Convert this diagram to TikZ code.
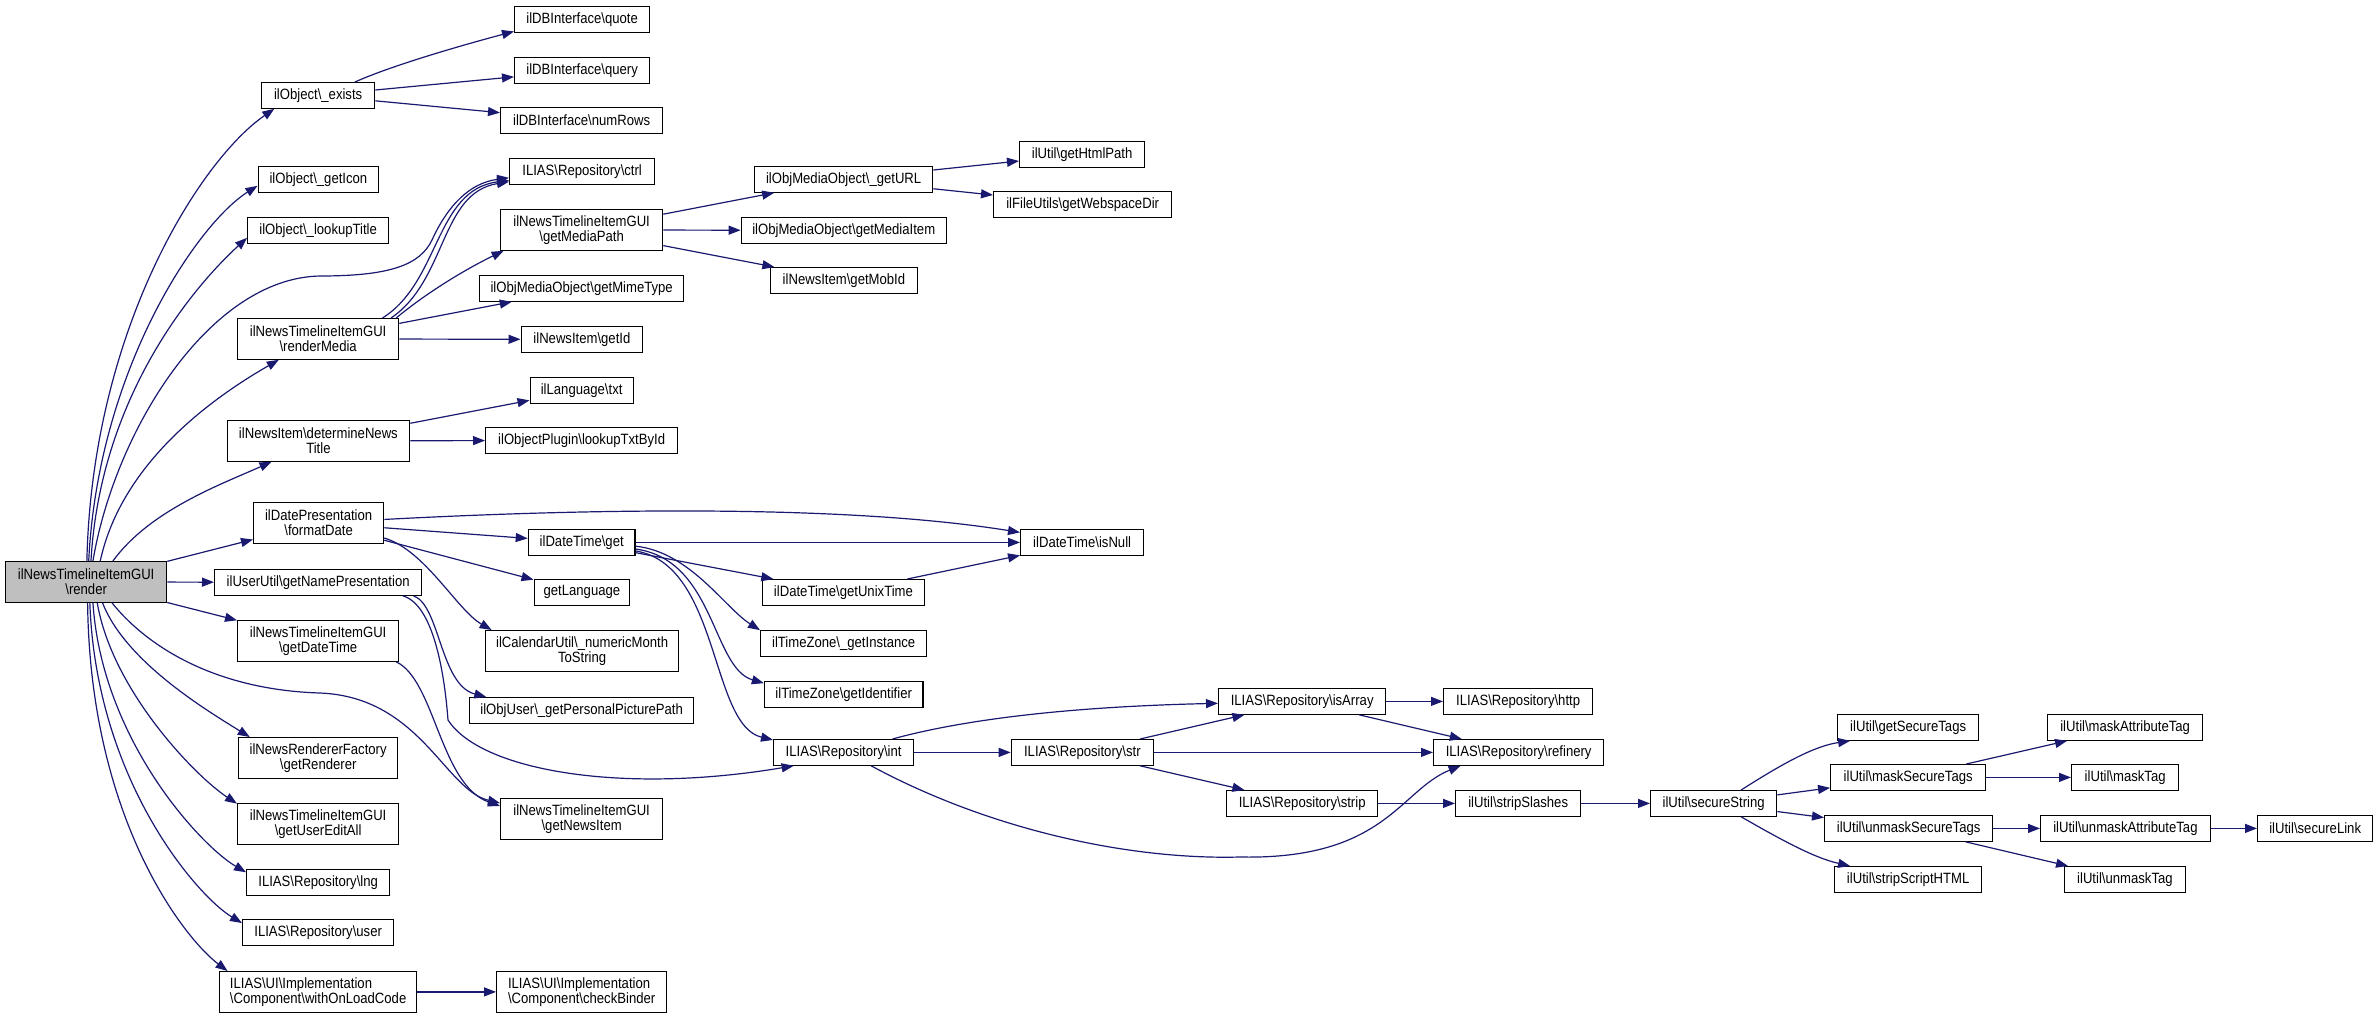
\documentclass[tikz,border=0pt]{standalone}
\usepackage{fontspec}
\setmainfont{Liberation Sans}[FakeStretch=0.88]
\usetikzlibrary{arrows.meta}
\definecolor{edgeblue}{HTML}{191970}
\definecolor{rootfill}{HTML}{BFBFBF}
\newcommand{\bksl}{\textbackslash}
\begin{document}
\begin{tikzpicture}[x=1pt,y=-1pt,
  box/.style={draw=black, line width=1.3pt, fill=white, inner sep=0pt, anchor=north west,
    font=\fontsize{14.9}{15.2}\selectfont, align=center, minimum height=25.5pt},
  dbl/.style={box, minimum height=40.5pt},
  root/.style={dbl, fill=rootfill},
  edge/.style={draw=edgeblue, line width=1.2pt, -{Triangle[length=12pt,width=9pt]}}
]
\useasboundingbox (0,0) rectangle (2377,1017);

% column 0
\node[root, minimum width=161pt] (render) at (5,561) {ilNewsTimelineItemGUI\\\bksl render};
% column 1
\node[box, minimum width=113pt] (exists) at (261,82) {ilObject\bksl\_exists};
\node[box, minimum width=120.5pt] (getIcon) at (257.5,166) {ilObject\bksl\_getIcon};
\node[box, minimum width=141pt] (lookupTitle) at (247,217) {ilObject\bksl\_lookupTitle};
\node[dbl, minimum width=161pt] (renderMedia) at (237,318) {ilNewsTimelineItemGUI\\\bksl renderMedia};
\node[dbl, minimum width=182.5pt] (determineNewsTitle) at (226.5,420) {ilNewsItem\bksl determineNews\\Title};
\node[dbl, minimum width=130pt] (formatDate) at (253,502) {ilDatePresentation\\\bksl formatDate};
\node[box, minimum width=207pt] (getNamePresentation) at (214,569) {ilUserUtil\bksl getNamePresentation};
\node[dbl, minimum width=161pt] (getDateTime) at (237,620) {ilNewsTimelineItemGUI\\\bksl getDateTime};
\node[dbl, minimum width=159pt] (getRenderer) at (238,737) {ilNewsRendererFactory\\\bksl getRenderer};
\node[dbl, minimum width=161pt] (getUserEditAll) at (237,803) {ilNewsTimelineItemGUI\\\bksl getUserEditAll};
\node[box, minimum width=143pt] (lng) at (246,869) {ILIAS\bksl Repository\bksl lng};
\node[box, minimum width=151pt] (user) at (242,919) {ILIAS\bksl Repository\bksl user};
\node[dbl, minimum width=197pt, align=left] (withOnLoadCode) at (219,971) {ILIAS\bksl UI\bksl Implementation\\\bksl Component\bksl withOnLoadCode};
% column 2
\node[box, minimum width=135pt] (quote) at (514,6) {ilDBInterface\bksl quote};
\node[box, minimum width=135pt] (query) at (514,57) {ilDBInterface\bksl query};
\node[box, minimum width=162pt] (numRows) at (500,107) {ilDBInterface\bksl numRows};
\node[box, minimum width=145pt] (ctrl) at (509,158) {ILIAS\bksl Repository\bksl ctrl};
\node[dbl, minimum width=162pt] (getMediaPath) at (500,209) {ilNewsTimelineItemGUI\\\bksl getMediaPath};
\node[box, minimum width=204pt] (getMimeType) at (479,275) {ilObjMediaObject\bksl getMimeType};
\node[box, minimum width=121.5pt] (getId) at (520.5,326) {ilNewsItem\bksl getId};
\node[box, minimum width=103pt] (txt) at (529.5,377) {ilLanguage\bksl txt};
\node[box, minimum width=192pt] (lookupTxtById) at (485,427) {ilObjectPlugin\bksl lookupTxtById};
\node[box, minimum width=106.7pt] (dtget) at (527.7,529) {ilDateTime\bksl get};
\node[box, minimum width=95.5pt] (getLanguage) at (533.5,579) {getLanguage};
\node[dbl, minimum width=193pt] (calNum) at (485,630) {ilCalendarUtil\bksl\_numericMonth\\ToString};
\node[box, minimum width=224pt] (picPath) at (469,697) {ilObjUser\bksl\_getPersonalPicturePath};
\node[dbl, minimum width=162pt] (getNewsItem) at (500,798) {ilNewsTimelineItemGUI\\\bksl getNewsItem};
\node[dbl, minimum width=170pt, align=left] (checkBinder) at (496,971) {ILIAS\bksl UI\bksl Implementation\\\bksl Component\bksl checkBinder};
% column 3
\node[box, minimum width=178pt] (getURL) at (754,166) {ilObjMediaObject\bksl\_getURL};
\node[box, minimum width=205pt] (getMediaItem) at (740.6,217) {ilObjMediaObject\bksl getMediaItem};
\node[box, minimum width=147.4pt] (getMobId) at (769.6,267) {ilNewsItem\bksl getMobId};
\node[box, minimum width=162.4pt] (getUnixTime) at (761.6,579) {ilDateTime\bksl getUnixTime};
\node[box, minimum width=166pt] (getInstance) at (760,630) {ilTimeZone\bksl\_getInstance};
\node[box, minimum width=158.5pt] (getIdentifier) at (763.8,681) {ilTimeZone\bksl getIdentifier};
\node[box, minimum width=140pt] (int) at (773,739) {ILIAS\bksl Repository\bksl int};
% column 4
\node[box, minimum width=125pt] (getHtmlPath) at (1019,141) {ilUtil\bksl getHtmlPath};
\node[box, minimum width=178pt] (getWebspaceDir) at (993,191) {ilFileUtils\bksl getWebspaceDir};
\node[box, minimum width=123pt] (isNull) at (1020,529) {ilDateTime\bksl isNull};
\node[box, minimum width=142pt] (str) at (1010.7,739) {ILIAS\bksl Repository\bksl str};
% column 5
\node[box, minimum width=167pt] (isArray) at (1218,688) {ILIAS\bksl Repository\bksl isArray};
\node[box, minimum width=151pt] (strip) at (1226,790) {ILIAS\bksl Repository\bksl strip};
% column 6
\node[box, minimum width=149pt] (http) at (1443,688) {ILIAS\bksl Repository\bksl http};
\node[box, minimum width=170pt] (refinery) at (1433,739) {ILIAS\bksl Repository\bksl refinery};
\node[box, minimum width=125pt] (stripSlashes) at (1455,790) {ilUtil\bksl stripSlashes};
% column 7
\node[box, minimum width=126pt] (secureString) at (1650,790) {ilUtil\bksl secureString};
% column 8
\node[box, minimum width=141pt] (getSecureTags) at (1837,714) {ilUtil\bksl getSecureTags};
\node[box, minimum width=155pt] (maskSecureTags) at (1830,764) {ilUtil\bksl maskSecureTags};
\node[box, minimum width=168pt] (unmaskSecureTags) at (1824,815) {ilUtil\bksl unmaskSecureTags};
\node[box, minimum width=147pt] (stripScriptHTML) at (1834,866) {ilUtil\bksl stripScriptHTML};
% column 9
\node[box, minimum width=155pt] (maskAttributeTag) at (2047,714) {ilUtil\bksl maskAttributeTag};
\node[box, minimum width=107pt] (maskTag) at (2071,764) {ilUtil\bksl maskTag};
\node[box, minimum width=169.5pt] (unmaskAttributeTag) at (2040,815) {ilUtil\bksl unmaskAttributeTag};
\node[box, minimum width=120.5pt] (unmaskTag) at (2064,866) {ilUtil\bksl unmaskTag};
% column 10
\node[box, minimum width=115pt] (secureLink) at (2257,815) {ilUtil\bksl secureLink};

% edges from render
\draw[edge] (render.88) .. controls (92,330) and (200,160) .. (exists.197);
\draw[edge] (render.83) .. controls (98,370) and (197,224) .. (getIcon.186);
\draw[edge] (render.77) .. controls (100,400) and (190,290) .. (lookupTitle.186);
\draw[edge] (render.72) .. controls (115,430) and (210,278) .. (320,276)
  .. controls (390,276) and (420,265) .. (432,240)
  .. controls (448,205) and (470,183) .. (ctrl.185);
\draw[edge] (render.56) .. controls (120,470) and (200,405) .. (renderMedia.208);
\draw[edge] (render.38) .. controls (150,510) and (222,484) .. (determineNewsTitle.204);
\draw[edge] (render) -- (formatDate);
\draw[edge] (render) -- (getNamePresentation);
\draw[edge] (render) -- (getDateTime);
\draw[edge] (render.321) .. controls (150,650) and (220,690) .. (320,693)
  .. controls (420,697) and (445,790) .. (getNewsItem.169);
\draw[edge] (render.308) .. controls (125,660) and (201,707) .. (getRenderer.163);
\draw[edge] (render.298) .. controls (112,690) and (195,776) .. (getUserEditAll.166);
\draw[edge] (render.288) .. controls (102,740) and (201,846) .. (lng.172);
\draw[edge] (render.280) .. controls (96,780) and (197,896) .. (user.173);
\draw[edge] (render.274) .. controls (90,820) and (185,939) .. (withOnLoadCode.167);
% exists
\draw[edge] (exists.20) .. controls (395,64) and (474,42) .. (quote.190);
\draw[edge] (exists) -- (query);
\draw[edge] (exists) -- (numRows);
% renderMedia
\draw[edge] (renderMedia.18) .. controls (440,282) and (435,190) .. (ctrl.187);
\draw[edge] (renderMedia.16) .. controls (447,280) and (440,193) .. (ctrl.188);
\draw[edge] (renderMedia.15) .. controls (430,290) and (470,267) .. (getMediaPath.195);
\draw[edge] (renderMedia) -- (getMimeType);
\draw[edge] (renderMedia) -- (getId);
% determineNewsTitle
\draw[edge] (determineNewsTitle) -- (txt);
\draw[edge] (determineNewsTitle) -- (lookupTxtById);
% formatDate
\draw[edge] (formatDate) .. controls (600,508) and (850,505) .. (isNull);
\draw[edge] (formatDate) -- (dtget);
\draw[edge] (formatDate) -- (getLanguage);
\draw[edge] (formatDate.347) .. controls (425,550) and (457,610) .. (calNum.167);
% getNamePresentation
\draw[edge] (getNamePresentation.352) .. controls (440,605) and (440,685) .. (picPath.172);
\draw[edge] (getNamePresentation.351) .. controls (435,605) and (445,680) .. (448,720)
  .. controls (480,770) and (620,795) .. (int.195);
% getDateTime
\draw[edge] (getDateTime.345) .. controls (435,680) and (440,785) .. (getNewsItem.171);
% getMediaPath / getURL
\draw[edge] (getMediaPath) -- (getURL);
\draw[edge] (getMediaPath) -- (getMediaItem);
\draw[edge] (getMediaPath) -- (getMobId);
\draw[edge] (getURL) -- (getHtmlPath);
\draw[edge] (getURL) -- (getWebspaceDir);
% ilDateTime get
\draw[edge] (dtget) -- (isNull);
\draw[edge] (dtget) -- (getUnixTime);
\draw[edge] (dtget.356) .. controls (690,552) and (725,608) .. (getInstance.171);
\draw[edge] (dtget.353) .. controls (715,560) and (712,668) .. (getIdentifier.172);
\draw[edge] (dtget.351) .. controls (720,565) and (710,725) .. (int.170);
\draw[edge] (getUnixTime) -- (isNull);
% int / str
\draw[edge] (int) .. controls (980,715) and (1100,706) .. (isArray);
\draw[edge] (int) -- (str);
\draw[edge] (int.334) .. controls (990,830) and (1130,860) .. (1240,857)
  .. controls (1385,860) and (1400,790) .. (refinery.193);
\draw[edge] (str) -- (isArray);
\draw[edge] (str) -- (refinery);
\draw[edge] (str) -- (strip);
\draw[edge] (isArray) -- (http);
\draw[edge] (isArray) -- (refinery);
\draw[edge] (strip) -- (stripSlashes);
\draw[edge] (stripSlashes) -- (secureString);
% secureString
\draw[edge] (secureString.26) .. controls (1785,762) and (1815,746) .. (getSecureTags.193);
\draw[edge] (secureString) -- (maskSecureTags);
\draw[edge] (secureString) -- (unmaskSecureTags);
\draw[edge] (secureString.334) .. controls (1785,842) and (1815,858) .. (stripScriptHTML.167);
\draw[edge] (maskSecureTags) -- (maskAttributeTag);
\draw[edge] (maskSecureTags) -- (maskTag);
\draw[edge] (unmaskSecureTags) -- (unmaskAttributeTag);
\draw[edge] (unmaskSecureTags) -- (unmaskTag);
\draw[edge] (unmaskAttributeTag) -- (secureLink);
\draw[edge] (withOnLoadCode) -- (checkBinder);
\end{tikzpicture}
\end{document}
